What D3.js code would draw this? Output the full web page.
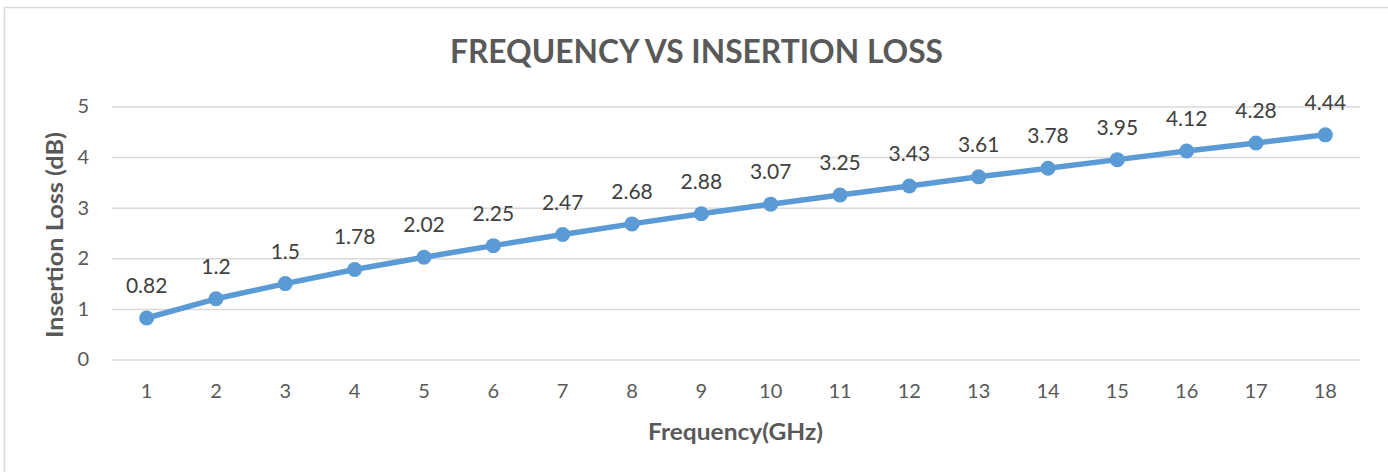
<!DOCTYPE html>
<html>
<head>
<meta charset="utf-8">
<script src="https://cdn.jsdelivr.net/npm/d3@7"></script>
<style>
  html, body { margin: 0; padding: 0; background: #fff; }
  svg { display: block; }
  text { font-family: Lato, "Open Sans", sans-serif; }
</style>
</head>
<body>
<svg id="chart" width="1388" height="472"></svg>
<script>
const categories = ["1","2","3","4","5","6","7","8","9","10","11","12","13","14","15","16","17","18"];
const lossValues = [0.82,1.2,1.5,1.78,2.02,2.25,2.47,2.68,2.88,3.07,3.25,3.43,3.61,3.78,3.95,4.12,4.28,4.44];
const yTicks = [0,1,2,3,4,5];
const titleText = "FREQUENCY VS INSERTION LOSS";
const xTitle = "Frequency(GHz)";
const yTitle = "Insertion Loss (dB)";

const svg = d3.select("#chart");
const W = 1388, H = 472;
const plot = {left: 112, right: 1360, top: 106.5, bottom: 359.5};

// frame
svg.append("rect").attr("x", 4.5).attr("y", 7.5).attr("width", W + 10).attr("height", H + 10)
  .attr("fill", "#fff").attr("stroke", "#d9d9d9").attr("stroke-width", 1.5);

const x = d3.scaleBand().domain(categories).range([plot.left, plot.right]);
const y = d3.scaleLinear().domain([0, 5]).range([plot.bottom, plot.top]);

// gridlines
const yAxis = d3.axisLeft(y).tickValues(yTicks).tickSize(-(plot.right - plot.left)).tickPadding(23).tickFormat(d3.format("d"));
const gy = svg.append("g").attr("transform", `translate(${plot.left},0)`).call(yAxis);
gy.select(".domain").remove();
gy.selectAll(".tick line").attr("stroke", "#d9d9d9").attr("stroke-width", 1.5);
gy.selectAll(".tick text").attr("fill", "#595959").style("font-size", "20px").attr("font-family", "Lato, sans-serif");

// x axis
const xAxis = d3.axisBottom(x).tickSize(0).tickPadding(24);
const gx = svg.append("g").attr("transform", `translate(0,${plot.bottom})`).call(xAxis);
gx.select(".domain").remove();
gx.selectAll(".tick text").attr("fill", "#595959").style("font-size", "20px").attr("font-family", "Lato, sans-serif");

// line
const line = d3.line().x((d, i) => x(categories[i]) + x.bandwidth() / 2).y(d => y(d));
svg.append("path").datum(lossValues).attr("d", line)
  .attr("fill", "none").attr("stroke", "#5b9bd5").attr("stroke-width", 5.5).attr("stroke-linejoin", "round");

svg.append("g").selectAll("circle").data(lossValues).join("circle")
  .attr("cx", (d, i) => x(categories[i]) + x.bandwidth() / 2)
  .attr("cy", d => y(d)).attr("r", 7.5).attr("fill", "#5b9bd5");

// data labels
svg.append("g").selectAll("text").data(lossValues).join("text")
  .attr("x", (d, i) => x(categories[i]) + x.bandwidth() / 2)
  .attr("y", d => y(d) - 25)
  .attr("text-anchor", "middle").attr("fill", "#404040").style("font-size", "21px")
  .text(d => String(d));

// title
svg.append("text").attr("x", 696.5).attr("y", 63).attr("text-anchor", "middle")
  .attr("fill", "#595959").style("font-size", "32px").style("font-weight", "bold")
  .attr("textLength", 493).attr("lengthAdjust", "spacingAndGlyphs")
  .text(titleText);

// x title
svg.append("text").attr("x", 735.5).attr("y", 440).attr("text-anchor", "middle")
  .attr("fill", "#595959").style("font-size", "22px").style("font-weight", "bold")
  .attr("textLength", 175).attr("lengthAdjust", "spacingAndGlyphs")
  .text(xTitle);

// y title
svg.append("text").attr("transform", "translate(63,235) rotate(-90)").attr("text-anchor", "middle")
  .attr("fill", "#595959").style("font-size", "22px").style("font-weight", "bold")
  .attr("textLength", 206).attr("lengthAdjust", "spacingAndGlyphs")
  .text(yTitle);
</script>
</body>
</html>
